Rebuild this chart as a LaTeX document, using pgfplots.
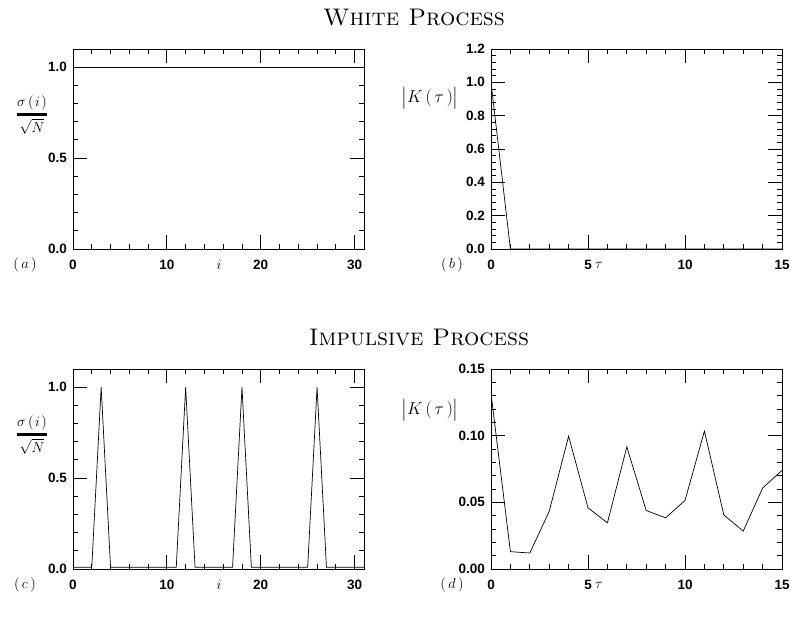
\documentclass[border=0pt]{standalone}
\usepackage{amsmath}
\usepackage{fontspec}
\setsansfont{Liberation Sans}
\usepackage{pgfplots}
\pgfplotsset{compat=1.18}
\begin{document}
\begin{tikzpicture}
\useasboundingbox (0pt,0pt) rectangle (791pt,-616pt);
\pgfplotsset{
 myax/.style={scale only axis, width=291pt, height=200pt,
   axis line style={line width=0.9pt}, tick align=inside,
   major tick length=14pt, minor tick length=5pt,
   every tick/.style={black, line width=0.9pt},
   tick label style={font=\fontsize{13.5}{13.5}\selectfont\sffamily\bfseries, inner sep=2pt},
   /pgf/number format/assume math mode=true,
   xticklabel style={yshift=-9pt}, yticklabel style={xshift=-4pt},
 },
 yprec/.style={y tick label style={/pgf/number format/fixed, /pgf/number format/fixed zerofill, /pgf/number format/precision=#1}},
}
% (a)
\begin{axis}[myax, anchor=south west, at={(73pt,-249pt)}, xmin=0, xmax=31, ymin=0, ymax=1.1,
  xtick={0,10,20,30}, minor x tick num=4, ytick={0,0.5,1}, minor y tick num=4, yprec=1]
\addplot[black, mark=none, line width=0.7pt] coordinates {(0,1)(1,1)(2,1)(3,1)(4,1)(5,1)(6,1)(7,1)(8,1)(9,1)(10,1)(11,1)(12,1)(13,1)(14,1)(15,1)
(16,1)(17,1)(18,1)(19,1)(20,1)(21,1)(22,1)(23,1)(24,1)(25,1)(26,1)(27,1)(28,1)(29,1)(30,1)(31,1)};
\end{axis}
% (b)
\begin{axis}[myax, anchor=south west, at={(491pt,-249pt)}, xmin=0, xmax=15, ymin=0, ymax=1.2,
  xtick={0,5,10,15}, minor x tick num=4, ytick={0,0.2,0.4,0.6,0.8,1.0,1.2}, minor y tick num=4, yprec=1]
\addplot[black, mark=none, line width=0.7pt] coordinates {(0,1)(1,0)(2,0)(3,0)(4,0)(5,0)(6,0)(7,0)(8,0)(9,0)(10,0)(11,0)(12,0)(13,0)(14,0)(15,0)};
\end{axis}
% (c)
\begin{axis}[myax, anchor=south west, at={(73pt,-569pt)}, xmin=0, xmax=31, ymin=0, ymax=1.1,
  xtick={0,10,20,30}, minor x tick num=4, ytick={0,0.5,1}, minor y tick num=4, yprec=1]
\addplot[black, mark=none, line width=0.7pt] coordinates {(0,0.01)(1,0.01)(2,0.01)(3,1)(4,0.01)(5,0.01)(6,0.01)(7,0.01)(8,0.01)(9,0.01)(10,0.01)(11,0.01)(12,1)(13,0.01)(14,0.01)(15,0.01)
(16,0.01)(17,0.01)(18,1)(19,0.01)(20,0.01)(21,0.01)(22,0.01)(23,0.01)(24,0.01)(25,0.01)(26,1)(27,0.01)(28,0.01)(29,0.01)(30,0.01)(31,0.01)};
\end{axis}
% (d)
\begin{axis}[myax, anchor=south west, at={(491pt,-569pt)}, xmin=0, xmax=15, ymin=0, ymax=0.15,
  xtick={0,5,10,15}, minor x tick num=4, ytick={0,0.05,0.1,0.15}, minor y tick num=4, yprec=2]
\addplot[black, mark=none, line width=0.7pt] coordinates {(0,0.1317)(1,0.0130)(2,0.0120)(3,0.0432)(4,0.0996)(5,0.0459)(6,0.0346)(7,0.0916)(8,0.0439)(9,0.0384)(10,0.0514)(11,0.1034)(12,0.0406)(13,0.0284)(14,0.0607)(15,0.0740)};
\end{axis}
% titles
\node[anchor=base] at (414pt,-25pt) {\fontsize{24}{28}\selectfont\textsc{White Process}};
\node[anchor=base] at (419pt,-345pt) {\fontsize{24}{28}\selectfont\textsc{Impulsive Process}};
% labels
\node[font=\fontsize{15}{17}\selectfont] at (219pt,-265pt) {$i$};
\node[font=\fontsize{15}{17}\selectfont] at (599pt,-265pt) {$\tau$};
\node[font=\fontsize{15}{17}\selectfont] at (219pt,-585pt) {$i$};
\node[font=\fontsize{15}{17}\selectfont] at (599pt,-585pt) {$\tau$};
\node[font=\fontsize{15}{17}\selectfont] at (25pt,-265pt) {$(\,a\,)$};
\node[font=\fontsize{15}{17}\selectfont] at (452pt,-265pt) {$(\,b\,)$};
\node[font=\fontsize{15}{17}\selectfont] at (25pt,-585pt) {$(\,c\,)$};
\node[font=\fontsize{15}{17}\selectfont] at (452pt,-585pt) {$(\,d\,)$};
\node[font=\fontsize{19}{21}\selectfont] at (32pt,-115pt) {$\genfrac{}{}{2.8pt}{1}{\sigma\kern2.5pt(\kern1.5pt i\kern1.5pt)}{\sqrt{N}}$};
\node[font=\fontsize{19}{21}\selectfont] at (32pt,-435pt) {$\genfrac{}{}{2.8pt}{1}{\sigma\kern2.5pt(\kern1.5pt i\kern1.5pt)}{\sqrt{N}}$};
\node[font=\fontsize{16}{18}\selectfont, inner sep=0pt] at (430pt,-98pt) {$\bigl|K\,(\,\tau\,)\bigr|$};
\node[font=\fontsize{16}{18}\selectfont, inner sep=0pt] at (430pt,-410pt) {$\bigl|K\,(\,\tau\,)\bigr|$};
\end{tikzpicture}
\end{document}
